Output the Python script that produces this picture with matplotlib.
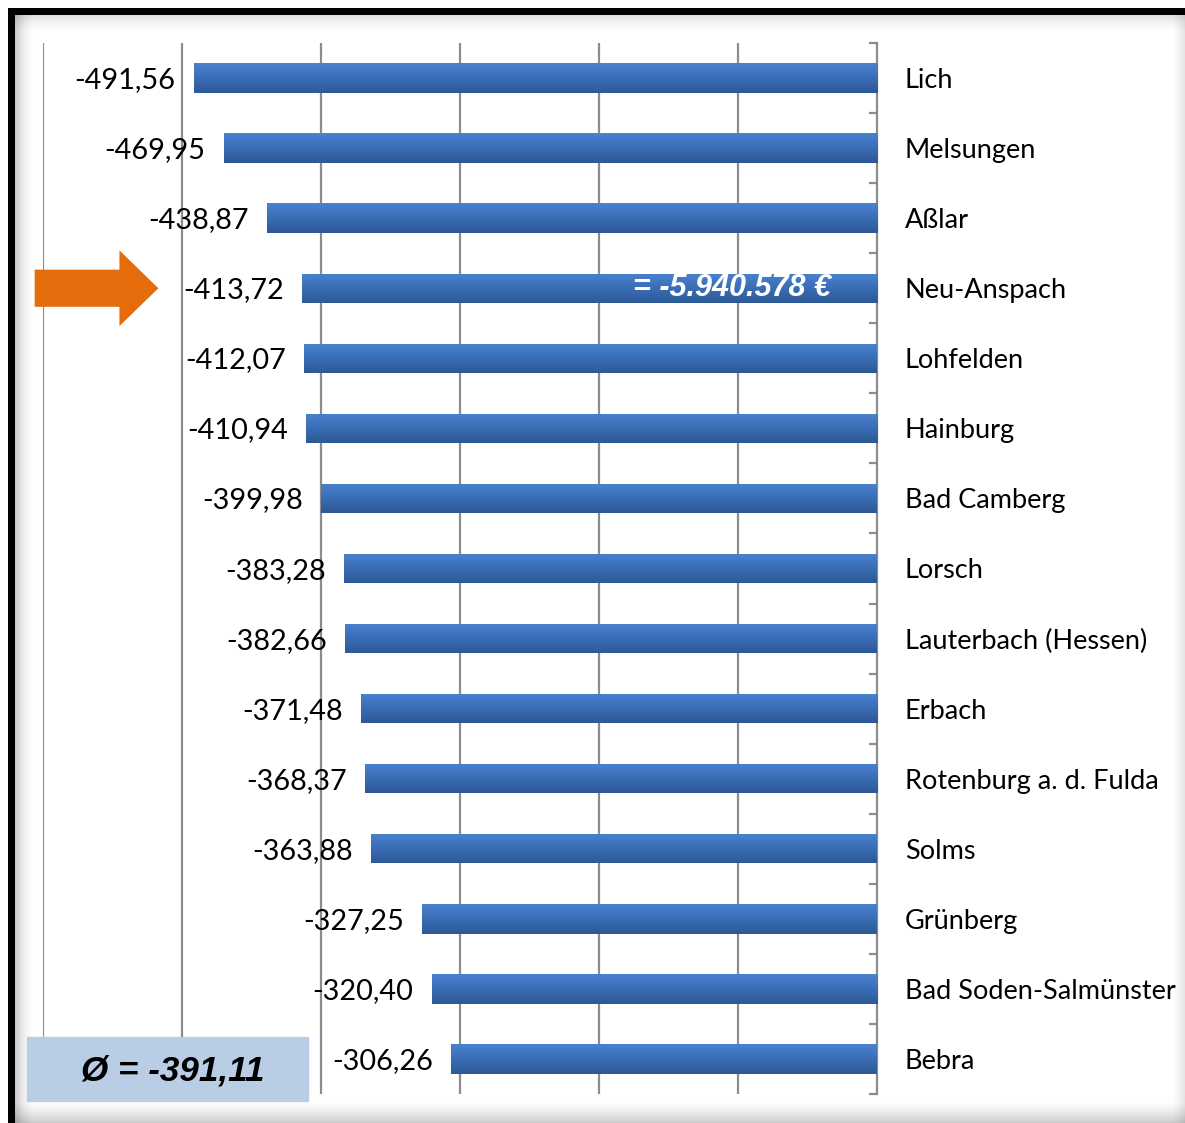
import numpy as np
import matplotlib.pyplot as plt
from matplotlib.patches import Rectangle, FancyArrow
from matplotlib.colors import LinearSegmentedColormap

orte = ["Lich", "Melsungen", "Aßlar", "Neu-Anspach", "Lohfelden", "Hainburg",
        "Bad Camberg", "Lorsch", "Lauterbach (Hessen)", "Erbach",
        "Rotenburg a. d. Fulda", "Solms", "Grünberg", "Bad Soden-Salmünster", "Bebra"]
werte = [-491.56, -469.95, -438.87, -413.72, -412.07, -410.94, -399.98, -383.28,
         -382.66, -371.48, -368.37, -363.88, -327.25, -320.40, -306.26]
markiert = "Neu-Anspach"
summe_text = "= -5.940.578 €"
schnitt_text = "Ø = -391,11"

plt.rcParams['font.family'] = ['Lato', 'DejaVu Sans']

fig = plt.figure(figsize=(11.85, 11.23), dpi=100)
W, H = 1185, 1123
ax = fig.add_axes([43 / W, 1 - 1094 / H, (877 - 43) / W, (1094 - 43) / H])

y = np.arange(len(orte))
bars = ax.barh(y, werte, height=0.42, color='#3a6db5', zorder=3)

# farbverlauf in den balken
grad = np.linspace(0, 1, 64).reshape(-1, 1)
cmap = LinearSegmentedColormap.from_list('b', ['#4a82cf', '#3a6db5', '#2d5996'])
for b in bars:
    x0, y0 = b.get_x(), b.get_y()
    im = ax.imshow(grad, cmap=cmap, aspect='auto', zorder=4,
                   extent=(x0, x0 + b.get_width(), y0 + b.get_height(), y0))
    im.set_clip_path(b)

ax.set_xlim(-600, 0)
ax.set_ylim(len(orte) - 0.5, -0.5)

ax.set_xticks([-600, -500, -400, -300, -200, -100])
ax.xaxis.grid(True, color='#8c8c8c', linewidth=1.6, zorder=1)
ax.tick_params(axis='x', length=0, labelbottom=False)

for s in ['left', 'top', 'bottom']:
    ax.spines[s].set_visible(False)
ax.spines['right'].set_color('#8c8c8c')
ax.spines['right'].set_linewidth(1.6)

ax.yaxis.tick_right()
ax.set_yticks(y)
ax.set_yticklabels(orte, fontsize=19.5)
ax.set_yticks(np.arange(len(orte) + 1) - 0.5, minor=True)
ax.tick_params(axis='y', which='major', length=0, pad=20)
ax.tick_params(axis='y', which='minor', length=6, width=1.6, color='#8c8c8c',
               direction='in')

for i, v in enumerate(werte):
    ax.annotate(f"{v:.2f}".replace('.', ','), (v, i), xytext=(-13, -1.5),
                textcoords='offset points', ha='right', va='center',
                fontsize=20.8, zorder=5)
    if orte[i] == markiert:
        ax.annotate(summe_text, (-104, i), ha='center', va='center',
                    color='white', fontsize=22, fontweight='bold', style='italic',
                    family='Liberation Sans', zorder=6)
        ax.add_patch(FancyArrow(-606, i, 89, 0, width=0.53, head_width=1.08,
                                head_length=28, length_includes_head=True,
                                color='#e46c0a', lw=0, clip_on=False, zorder=6,
                                transform=ax.transData))

# kasten mit dem durchschnitt
fig.patches.append(Rectangle((27 / W, 1 - 1101 / H), 281 / W, 64 / H,
                             transform=fig.transFigure, color='#b9cde5', zorder=10))
fig.text(173 / W, 1 - 1071 / H, schnitt_text, ha='center', va='center',
         fontsize=25.2, fontweight='bold', style='italic', family='Liberation Sans',
         zorder=11)

# rahmen mit schatten
for k in range(20):
    a = 0.14 * (1 - k / 20) ** 2
    fig.patches.append(Rectangle((15 / W, 1 - (15 + k) / H), 1 - 15 / W, 1 / H,
                                 transform=fig.transFigure, color='black',
                                 alpha=a, lw=0))
    fig.patches.append(Rectangle((15 / W + k / W, 0), 1 / W, 1 - 15 / H,
                                 transform=fig.transFigure, color='black',
                                 alpha=a * 1.5, lw=0))
for k in range(22):
    fig.patches.append(Rectangle((15 / W, k / H), 1 - 15 / W, 1 / H,
                                 transform=fig.transFigure, color='black',
                                 alpha=0.2 * (1 - k / 22) ** 1.5, lw=0))
for k in range(14):
    fig.patches.append(Rectangle(((W - 1 - k) / W, 0), 1 / W, 1 - 15 / H,
                                 transform=fig.transFigure, color='black',
                                 alpha=0.1 * (1 - k / 14) ** 1.5, lw=0))
fig.patches.append(Rectangle((8 / W, 0), 7 / W, 1 - 8 / H,
                             transform=fig.transFigure, color='black', lw=0))
fig.patches.append(Rectangle((8 / W, 1 - 15 / H), 1 - 8 / W, 7 / H,
                             transform=fig.transFigure, color='black', lw=0))

fig.savefig('out.png', dpi=100)
